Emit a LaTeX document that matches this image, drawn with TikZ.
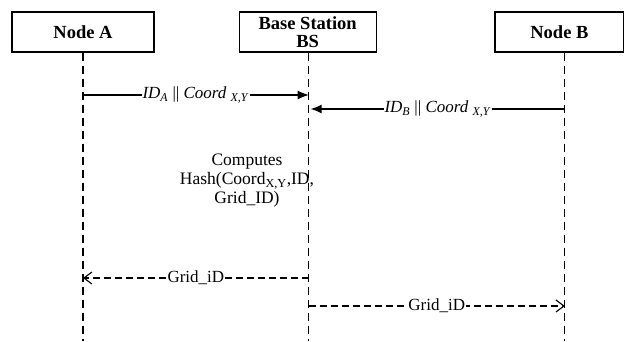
\documentclass[tikz,border=0pt]{standalone}
\usepackage{fontspec}
\setmainfont{Liberation Serif}
\usetikzlibrary{arrows.meta,positioning}

\begin{document}
\begin{tikzpicture}[
    x=1pt, y=1pt,
    node distance=84pt,
    box/.style={rectangle, draw, line width=1.2pt, minimum width=142pt, minimum height=40pt, inner sep=0pt, align=center, font=\bfseries\fontsize{18.5}{18}\selectfont},
    life/.style={line width=1.1pt, dash pattern=on 8pt off 5pt},
    msg/.style={->, line width=1.1pt, >={Latex[length=11pt,width=9pt]}},
    reply/.style={->, line width=1.1pt, dash pattern=on 7pt off 4pt, >={Straight Barb[length=8pt,width=12pt]}},
    lbl/.style={fill=white, inner sep=1pt, font=\fontsize{17}{19}\selectfont}
  ]
    \useasboundingbox (0,0) rectangle (624,-341);

    \node[box] (nodeA) at (83,-32) {Node A};
    \node[box, right=of nodeA, minimum width=137pt] (bs) {Base Station\\BS};
    \node[box, right=117.5pt of bs, minimum width=129pt] (nodeB) {Node B};

    % lifelines
    \coordinate (aTop) at (nodeA.south);
    \coordinate (bsTop) at ([xshift=1pt]bs.south);
    \coordinate (bTop) at ([xshift=5.5pt]nodeB.south);
    \coordinate (aEnd) at (aTop |- 0,-341);
    \coordinate (bsEnd) at (bsTop |- 0,-341);
    \coordinate (bEnd) at (bTop |- 0,-341);
    \draw[life] (aTop) -- (aEnd);
    \draw[life] (bsTop) -- (bsEnd);
    \draw[life] (bTop) -- (bEnd);

    % messages
    \coordinate (a1) at (aTop |- 0,-95);
    \coordinate (s1) at (bsTop |- 0,-95);
    \coordinate (b2) at (bTop |- 0,-109);
    \coordinate (s2) at ([xshift=2pt]bsTop |- 0,-109);
    \draw[msg] (a1) -- node[lbl] (idA) {\textit{ID}\textsubscript{\textit{A}} || \textit{Coord} \textsubscript{\textit{X,Y}}} (s1);
    \draw[msg] (b2) -- node[lbl] (idB) {\textit{ID}\textsubscript{\textit{B}} || \textit{Coord} \textsubscript{\textit{X,Y}}} (s2);

    \node[align=center, font=\fontsize{17.5}{19}\selectfont] (hash) at (247,-181) {Computes\\Hash(Coord\textsubscript{X,Y},ID,\\Grid\_ID)};

    \coordinate (s3) at (bsTop |- 0,-278);
    \coordinate (a3) at (aTop |- 0,-278);
    \coordinate (s4) at (bsTop |- 0,-306);
    \coordinate (b4) at (bTop |- 0,-306);
    \draw[reply] (s3) -- node[lbl] (gridA) {Grid\_iD} (a3);
    \draw[reply] (s4) -- node[lbl] (gridB) {Grid\_iD} (b4);
  \end{tikzpicture}
\end{document}
